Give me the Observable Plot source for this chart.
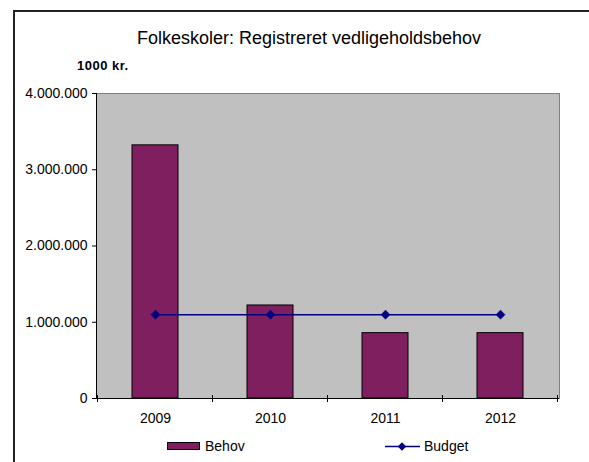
<!DOCTYPE html>
<html><head><meta charset="utf-8">
<script src="https://cdn.jsdelivr.net/npm/d3@7"></script>
<script src="https://cdn.jsdelivr.net/npm/@observablehq/plot@0.6"></script>
<style>
body{margin:0;background:#fff;font-family:"Liberation Sans",Arial,sans-serif;}
#wrap{position:relative;width:589px;height:462px;overflow:hidden;background:#fff;}
#frame{position:absolute;left:13px;top:10px;width:700px;height:600px;border-left:2px solid #222;border-top:2px solid #222;box-sizing:border-box;}
.t{position:absolute;white-space:nowrap;line-height:1;color:#000;}
#title{left:309px;top:29px;font-size:18px;transform:translateX(-50%);}
#unit{left:77px;top:59px;font-size:13px;font-weight:bold;letter-spacing:0.5px;}
#lg1sw{position:absolute;left:167px;top:442px;width:33px;height:8px;background:#7f1f5f;border:1px solid #000;box-sizing:border-box;}
#lg1{left:205px;top:439px;font-size:14px;}
#lg2{left:424px;top:439px;font-size:14px;}
</style>
</head><body>
<div id="wrap">
<div id="frame"></div>
<div class="t" id="title">Folkeskoler: Registreret vedligeholdsbehov</div>
<div class="t" id="unit">1000 kr.</div>
<div id="lg1sw"></div>
<div class="t" id="lg1">Behov</div>
<div class="t" id="lg2">Budget</div>
</div>
<script>
const years = ["2009", "2010", "2011", "2012"];
const behov = [3320000, 1220000, 857000, 857000];
const budget = [1100000, 1100000, 1100000, 1100000];
const yTicks = [0, 1000000, 2000000, 3000000, 4000000];
const seriesNames = ["Behov", "Budget"];

const data = years.map((y, i) => ({year: y, behov: behov[i], budget: budget[i]}));
const fmt = d3.formatLocale({decimal: ",", thousands: ".", grouping: [3], currency: ["", ""]}).format(",");

const BAR = "#7f1f5f", LINE = "#000080";

// category-boundary ticks (Excel style) derived from the x band scale
function boundaryTicks(index, scales, values, dims) {
  const x = scales.x;
  const step = x(years[1]) - x(years[0]);
  const bw = typeof x.bandwidth === "function" ? x.bandwidth() : x.bandwidth;
  const y0 = dims.height - dims.marginBottom;
  const g = d3.create("svg:g");
  const bounds = years.map(y => x(y) + bw / 2 - step / 2);
  bounds.push(x(years[years.length - 1]) + bw / 2 + step / 2);
  for (const b of bounds) {
    g.append("line").attr("x1", b).attr("x2", b).attr("y1", y0 - 3).attr("y2", y0 + 4)
      .attr("stroke", "#000").attr("stroke-width", 1);
  }
  return g.node();
}

const chart = Plot.plot({
  width: 589,
  height: 462,
  marginLeft: 96,
  marginRight: 30,
  marginTop: 93,
  marginBottom: 64,
  style: {fontFamily: "'Liberation Sans', Arial, sans-serif", fontSize: "14px", color: "#000", background: "transparent"},
  x: {type: "band", domain: years, paddingInner: 0.6, paddingOuter: 0.3},
  y: {domain: [0, 4000000]},
  marks: [
    Plot.frame({fill: "#c0c0c0", stroke: "#808080"}),
    Plot.barY(data, {x: "year", y: "behov", fill: BAR, stroke: "#000", strokeWidth: 1}),
    Plot.line(data, {x: "year", y: "budget", stroke: LINE, strokeWidth: 1.5}),
    Plot.dot(data, {x: "year", y: "budget", symbol: "square", r: 3.6, rotate: 45, fill: LINE, stroke: LINE, strokeWidth: 0.5}),
    Plot.frame({anchor: "left", stroke: "#000"}),
    Plot.ruleY([0], {stroke: "#000"}),
    boundaryTicks,
    Plot.axisY({ticks: yTicks, tickFormat: fmt, tickSize: 4, tickPadding: 5, fontSize: 14, label: null}),
    Plot.axisX({tickSize: 0, tickPadding: 15, fontSize: 14, label: null})
  ]
});
chart.style.position = "absolute";
chart.style.left = "0px";
chart.style.top = "0px";
const wrap = document.getElementById("wrap");
wrap.insertBefore(chart, wrap.firstChild.nextSibling);

// legend line sample for Budget
const lg = d3.select(wrap).append("svg")
  .style("position", "absolute").style("left", "380px").style("top", "438px")
  .attr("width", 44).attr("height", 18);
lg.append("line").attr("x1", 5).attr("x2", 40).attr("y1", 8.5).attr("y2", 8.5).attr("stroke", LINE).attr("stroke-width", 1.5);
lg.append("rect").attr("x", 22 - 3).attr("y", 8.5 - 3).attr("width", 6).attr("height", 6)
  .attr("fill", LINE).attr("transform", "rotate(45 22 8.5)");
</script>
</body></html>
